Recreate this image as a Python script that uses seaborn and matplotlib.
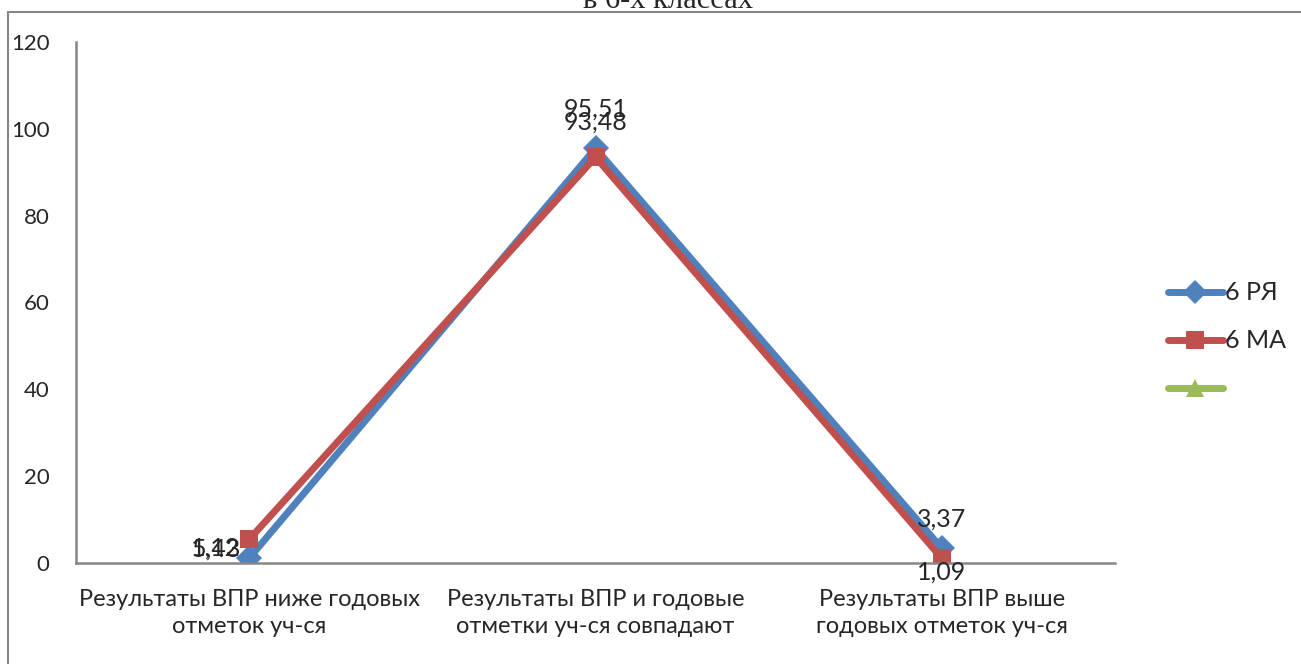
import pandas as pd
import matplotlib.pyplot as plt
from matplotlib.lines import Line2D
import seaborn as sns

categories = ['Результаты ВПР ниже годовых\nотметок уч-ся',
              'Результаты ВПР и годовые\nотметки уч-ся совпадают',
              'Результаты ВПР выше\nгодовых отметок уч-ся']
ru_values = [1.12, 95.51, 3.37]
ma_values = [5.43, 93.48, 1.09]
series_names = ['6 РЯ', '6 МА']
y_ticks = [0, 20, 40, 60, 80, 100, 120]

df = pd.DataFrame({
    'pos': list(range(3)) * 2,
    'value': ru_values + ma_values,
    'series': [series_names[0]] * 3 + [series_names[1]] * 3,
})

sns.set_style('white')
plt.rcParams['font.family'] = ['Lato', 'DejaVu Sans']

fig = plt.figure(figsize=(13.01, 6.64), dpi=100)
ax = fig.add_axes([76 / 1301, 1 - 563 / 664, (1115 - 76) / 1301, (563 - 42) / 664])

palette = {'6 РЯ': '#4F81BD', '6 МА': '#C0504D'}
sns.lineplot(data=df, x='pos', y='value', hue='series', style='series',
             markers={'6 РЯ': 'D', '6 МА': 's'}, dashes=False,
             palette=palette, linewidth=5, markersize=13,
             markeredgewidth=0, ax=ax, legend=False)

ax.set_xlim(-0.5, 2.5)
ax.set_ylim(0, 120)
ax.set_yticks(y_ticks)
ax.set_yticklabels([str(t) for t in y_ticks], fontsize=16)
ax.set_xticks([-0.5, 0.5, 1.5, 2.5])
ax.set_xticklabels([])
ax.set_xticks([0, 1, 2], minor=True)
ax.set_xticklabels(categories, minor=True, fontsize=17, linespacing=1.35)
ax.tick_params(axis='x', which='minor', length=0, pad=19)
ax.tick_params(axis='x', which='major', length=8, width=1.5, color='#868686', direction='out')
ax.tick_params(axis='y', length=7, width=1.5, color='#868686', direction='out', pad=12)
ax.set_xlabel('')
ax.set_ylabel('')
for side in ['top', 'right']:
    ax.spines[side].set_visible(False)
for side in ['left', 'bottom']:
    ax.spines[side].set_color('#868686')
    ax.spines[side].set_linewidth(1.8)

# data labels (Excel-like placement)
fmt = lambda v: f'{v:.2f}'.replace('.', ',')
ru_offsets = [(-24, 7), (0, 28), (0, 21)]
ma_offsets = [(-24, -7), (0, 25), (0, -10)]
for i, v in enumerate(ru_values):
    ax.annotate(fmt(v), (i, v), xytext=ru_offsets[i], textcoords='offset points',
                ha='center', va='center', fontsize=18)
for i, v in enumerate(ma_values):
    ax.annotate(fmt(v), (i, v), xytext=ma_offsets[i], textcoords='offset points',
                ha='center', va='center', fontsize=18)

handles = [
    Line2D([], [], color='#4F81BD', marker='D', lw=5, markersize=12, markeredgewidth=0),
    Line2D([], [], color='#C0504D', marker='s', lw=5, markersize=13, markeredgewidth=0),
    Line2D([], [], color='#9BBB59', marker='^', lw=5, markersize=13, markeredgewidth=0),
]
fig.legend(handles, series_names + [''], loc='center left',
           bbox_to_anchor=(1145 / 1301, 1 - 341 / 664), frameon=False,
           fontsize=18, handlelength=2.2, handletextpad=0.1, labelspacing=1.0)

# cropped title and outer frame
fig.text(668 / 1301, 1 - 8 / 664, 'в 6-х классах', ha='center', va='baseline',
         family='Liberation Serif', fontsize=22)
fig.add_artist(Line2D([8 / 1301, 8 / 1301], [0, 1 - 12 / 664],
                      color='#868686', lw=1.5, transform=fig.transFigure))
fig.add_artist(Line2D([8 / 1301, 1], [1 - 12 / 664, 1 - 12 / 664],
                      color='#868686', lw=1.5, transform=fig.transFigure))

fig.savefig('out.png', dpi=100)
